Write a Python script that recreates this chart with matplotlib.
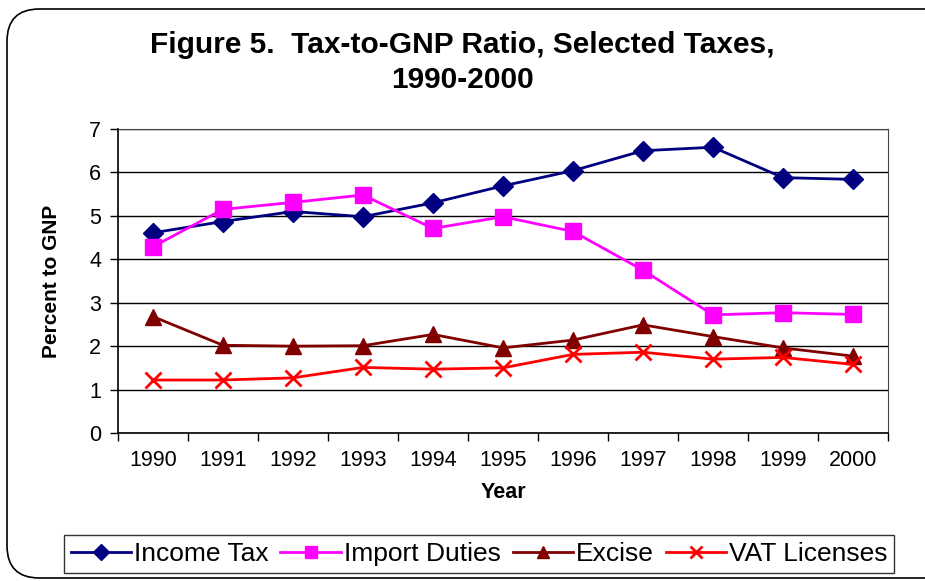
import matplotlib
matplotlib.use('Agg')
import matplotlib.pyplot as plt
from matplotlib.patches import FancyBboxPatch

plt.rcParams['font.family'] = ['Liberation Sans', 'DejaVu Sans']

years = ['1990', '1991', '1992', '1993', '1994', '1995', '1996', '1997', '1998', '1999', '2000']
income_tax = [4.61, 4.87, 5.10, 4.98, 5.30, 5.69, 6.04, 6.50, 6.58, 5.88, 5.84]
import_duties = [4.29, 5.15, 5.31, 5.48, 4.71, 4.98, 4.64, 3.75, 2.72, 2.77, 2.73]
excise = [2.68, 2.02, 2.00, 2.01, 2.27, 1.96, 2.14, 2.49, 2.22, 1.96, 1.77]
vat_licenses = [1.22, 1.22, 1.27, 1.51, 1.47, 1.50, 1.81, 1.86, 1.70, 1.74, 1.58]

W, H = 925, 581
fig = plt.figure(figsize=(W / 100, H / 100), dpi=100)

# rounded outer border (runs off the right edge like the original)
fig.patches.append(FancyBboxPatch((7 / W, 3 / H), 960 / W, 569 / H,
                                  boxstyle='round,pad=0,rounding_size=0.035',
                                  transform=fig.transFigure, fill=False,
                                  ec='black', lw=1.2, mutation_aspect=W / H))

ax = fig.add_axes([118 / W, 1 - 433 / H, (888 - 118) / W, (433 - 129) / H])
x = list(range(len(years)))

ax.plot(x, income_tax, '-', color='#000080', lw=2, marker='D', ms=10, label='Income Tax', zorder=4)
ax.plot(x, import_duties, '-', color='#FF00FF', lw=2, marker='s', ms=11, label='Import Duties', zorder=4)
ax.plot(x, excise, '-', color='#800000', lw=2, marker='^', ms=11, label='Excise', zorder=4)
ax.plot(x, vat_licenses, '-', color='#FF0000', lw=2, marker='x', ms=11, mew=2, label='VAT Licenses', zorder=4)

ax.set_xlim(-0.5, len(years) - 0.5)
ax.set_ylim(0, 7)
ax.set_yticks(range(0, 8))
ax.set_xticks([i - 0.5 for i in range(len(years) + 1)])
ax.set_xticklabels([])
ax.set_xticks(x, minor=True)
ax.set_xticklabels(years, minor=True)
ax.tick_params(axis='x', which='minor', length=0, labelsize=15.5, pad=12)
ax.tick_params(axis='x', which='major', length=6, direction='out', width=1)
ax.tick_params(axis='y', length=6, direction='out', labelsize=15.5, pad=6, width=1)
ax.yaxis.grid(True, color='black', lw=1)
ax.set_axisbelow(True)
for s in ['left', 'bottom']:
    ax.spines[s].set_linewidth(1.2)
ax.spines['right'].set_color('#444444')
ax.spines['top'].set_color('#444444')

ax.set_ylabel('Percent to GNP', fontsize=15, fontweight='bold', labelpad=20)
ax.set_xlabel('Year', fontsize=15.5, fontweight='bold', labelpad=8)

fig.text(0.5, 1 - 45 / H, 'Figure 5.  Tax-to-GNP Ratio, Selected Taxes,', ha='center', va='center',
         fontsize=21.5, fontweight='bold')
fig.text(0.5, 1 - 80 / H, '1990-2000', ha='center', va='center', fontsize=21.5, fontweight='bold')

leg = fig.legend(loc='center', bbox_to_anchor=(479 / W, 1 - 554 / H), ncol=4, fontsize=19,
                 frameon=True, fancybox=False, edgecolor='black', handlelength=2.3,
                 handletextpad=0.1, columnspacing=0.45, borderpad=0.25, borderaxespad=0,
                 markerscale=0.8)
leg.get_frame().set_linewidth(1)

fig.savefig('out.png', dpi=100)
